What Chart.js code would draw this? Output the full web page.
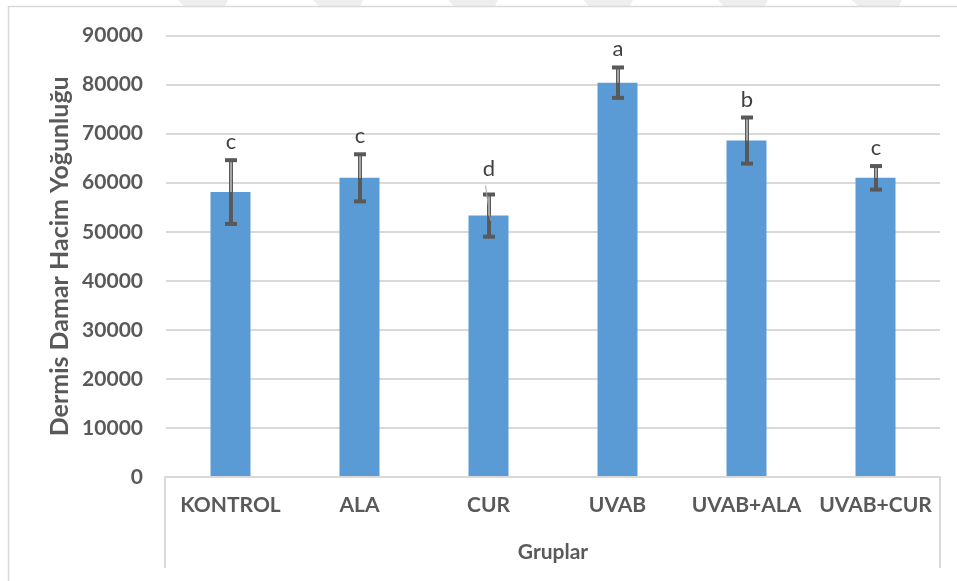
<!DOCTYPE html>
<html>
<head>
<meta charset="utf-8">
<script src="https://cdn.jsdelivr.net/npm/chart.js@4/dist/chart.umd.min.js"></script>
<style>
  html, body { margin: 0; padding: 0; background: #fff; }
  #wrap { width: 957px; height: 581px; }
</style>
</head>
<body>
<div id="wrap"><canvas id="chart" width="957" height="581"></canvas></div>
<script>
// Group names, mean vessel volume density, error (±) and significance letters
const groups = ['KONTROL', 'ALA', 'CUR', 'UVAB', 'UVAB+ALA', 'UVAB+CUR'];
const meanDensity = [58100, 61000, 53300, 80400, 68600, 61000];
const errorMargin = [6500, 4800, 4300, 3100, 4700, 2400];
const groupLetters = ['c', 'c', 'd', 'a', 'b', 'c'];

// Value axis range
const yMin = 0;
const yMax = 90000;
const yStep = 10000;

const yTitle = 'Dermis Damar Hacim Yoğunluğu';
const xTitle = 'Gruplar';

const TEXT = '#595959';
const LINE = '#d9d9d9';

// Background, outer frame and the faint bands along the top edge
const framePlugin = {
  id: 'framePlugin',
  beforeDraw(chart) {
    const ctx = chart.ctx;
    ctx.save();
    ctx.fillStyle = '#ffffff';
    ctx.fillRect(0, 0, chart.width, chart.height);

    ctx.fillStyle = '#eeeeee';
    [178, 313, 448, 583, 718, 852].forEach(x => {
      ctx.beginPath();
      ctx.moveTo(x, 0);
      ctx.lineTo(x + 50, 0);
      ctx.lineTo(x + 47, 6);
      ctx.lineTo(x + 6, 6);
      ctx.closePath();
      ctx.fill();
    });

    ctx.strokeStyle = LINE;
    ctx.lineWidth = 1.5;
    ctx.beginPath();
    ctx.moveTo(8.5, chart.height);
    ctx.lineTo(8.5, 6.5);
    ctx.lineTo(chart.width, 6.5);
    ctx.stroke();
    ctx.restore();
  }
};

// Category box under the plot, error bars and group letters
const overlayPlugin = {
  id: 'overlayPlugin',
  afterDatasetsDraw(chart) {
    const ctx = chart.ctx;
    const area = chart.chartArea;
    const yScale = chart.scales.y;
    const meta = chart.getDatasetMeta(0);
    ctx.save();

    // category box
    ctx.strokeStyle = LINE;
    ctx.lineWidth = 2;
    ctx.beginPath();
    ctx.moveTo(area.left - 1, 568);
    ctx.lineTo(area.left - 1, area.bottom);
    ctx.lineTo(area.right, area.bottom);
    ctx.lineTo(area.right, 568);
    ctx.stroke();

    meta.data.forEach((bar, i) => {
      const x = Math.round(bar.x);
      const yBar = bar.y;
      const yTop = yScale.getPixelForValue(meanDensity[i] + errorMargin[i]);
      const yBot = yScale.getPixelForValue(meanDensity[i] - errorMargin[i]);

      ctx.fillStyle = '#595959';
      ctx.fillRect(x - 2, yTop, 4, yBot - yTop);
      ctx.fillRect(x - 6, yTop - 2, 12, 4);
      ctx.fillRect(x - 6, yBot - 2, 12, 4);
      // lighter core of the stem above the bar
      ctx.fillStyle = '#a6a6a6';
      ctx.fillRect(x - 1, yTop + 2, 2, Math.max(yBar - yTop - 2, 0));

      const lift = groupLetters[i] === 'd' ? 19 : 11;
      const baseline = yTop - lift;
      ctx.fillStyle = '#404040';
      ctx.font = '22px Lato';
      ctx.textAlign = 'center';
      ctx.textBaseline = 'alphabetic';
      ctx.fillText(groupLetters[i], x, baseline);

      if (groupLetters[i] === 'd') {
        ctx.strokeStyle = '#a6a6a6';
        ctx.lineWidth = 1;
        ctx.beginPath();
        ctx.moveTo(x - 3.5, baseline + 10);
        ctx.lineTo(x + 1.5, yBar + 5);
        ctx.stroke();
      }
    });
    ctx.restore();
  }
};

new Chart(document.getElementById('chart'), {
  type: 'bar',
  data: {
    labels: groups,
    datasets: [{
      data: meanDensity,
      backgroundColor: '#5b9bd5',
      borderWidth: 0,
      barPercentage: 0.31,
      categoryPercentage: 1
    }]
  },
  options: {
    responsive: false,
    animation: false,
    devicePixelRatio: 1,
    layout: { padding: { left: 0, right: 17, top: 35, bottom: 0 } },
    plugins: {
      legend: { display: false },
      tooltip: { enabled: false }
    },
    scales: {
      x: {
        grid: { display: false, drawTicks: false },
        border: { display: false },
        ticks: {
          color: TEXT,
          font: { family: 'Lato', size: 21, weight: 'bold' },
          padding: 16,
          maxRotation: 0,
          autoSkip: false
        },
        title: {
          display: true,
          text: xTitle,
          color: TEXT,
          font: { family: 'Lato', size: 21, weight: 'bold' },
          padding: { top: 0, bottom: 16 }
        },
        afterFit(scale) { scale.height = 104; }
      },
      y: {
        min: yMin,
        max: yMax,
        grid: { color: LINE, lineWidth: 2, drawTicks: false },
        border: { display: false },
        ticks: {
          stepSize: yStep,
          color: TEXT,
          font: { family: 'Lato', size: 21, weight: 'bold' },
          padding: 23,
          callback: v => String(v)
        },
        title: {
          display: true,
          text: yTitle,
          color: TEXT,
          font: { family: 'Lato', size: 25, weight: 'bold' },
          padding: { top: 45, bottom: 0 }
        },
        afterFit(scale) { scale.width = 166; }
      }
    }
  },
  plugins: [framePlugin, overlayPlugin]
});
</script>
</body>
</html>
